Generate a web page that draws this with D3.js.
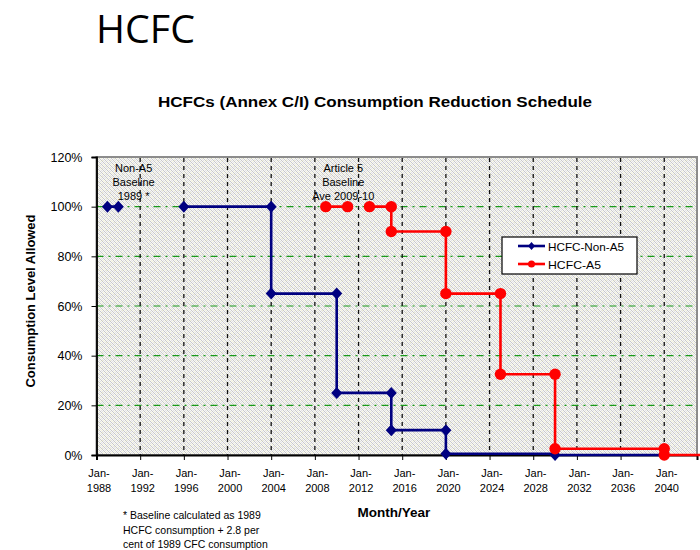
<!DOCTYPE html>
<html>
<head>
<meta charset="utf-8">
<script src="https://cdn.jsdelivr.net/npm/d3@7/dist/d3.min.js"></script>
<style>
  html, body { margin: 0; padding: 0; background: #fff; }
  svg { display: block; font-family: "Liberation Sans", Arial, sans-serif; }
</style>
</head>
<body>
<svg id="chart" width="700" height="550"></svg>
<script>
// HCFC consumption reduction schedule (per cent of baseline)
const nonA5Years  = [1989, 1990, null, 1996, 2004, 2004, 2010, 2010, 2015, 2015, 2020, 2020, 2030, 2030, 2040];
const nonA5Values = [100, 100, null, 100, 100, 65, 65, 25, 25, 10, 10, 0.5, 0.5, 0, 0];
const nonA5Marked = [1, 1, 0, 1, 1, 1, 1, 1, 1, 1, 1, 1, 0, 1, 0];

const a5Years  = [2009, 2011, null, 2013, 2015, 2015, 2020, 2020, 2025, 2025, 2030, 2030, 2040, 2040, 2044];
const a5Values = [100, 100, null, 100, 100, 90, 90, 65, 65, 32.5, 32.5, 2.5, 2.5, 0, 0];
const a5Marked = [1, 1, 0, 1, 1, 1, 1, 1, 1, 1, 1, 1, 1, 1, 0];

const xTickYears = [1988, 1992, 1996, 2000, 2004, 2008, 2012, 2016, 2020, 2024, 2028, 2032, 2036, 2040];
const yTickValues = [0, 20, 40, 60, 80, 100, 120];
const seriesNames = ["HCFC-Non-A5", "HCFC-A5"];
const footnoteLines = ["* Baseline calculated as 1989", "HCFC consumption + 2.8 per", "cent of 1989 CFC consumption"];
const nonA5Note = ["Non-A5", "Baseline", "1989 *"];
const a5Note = ["Article 5", "Baseline", "Ave 2009-10"];

const svg = d3.select("#chart");
const plot = { left: 96.5, right: 697, top: 157, bottom: 455 };

const x = d3.scaleLinear().domain([1988, 2043]).range([plot.left, plot.right]);
const y = d3.scaleLinear().domain([0, 120]).range([plot.bottom, plot.top]);

// speckled plot-area fill: an 8x8 tile described row by row
// (w = white, y = pale yellow, l = light grey, d = mid grey)
const weaveRows = [
  "wdwlwdyl",
  "lwdwywdw",
  "wlwdwlwd",
  "dwywdwlw",
  "wdwlwdwy",
  "ywdwlwdw",
  "wlydwywd",
  "dwlwdwlw"
];
const weaveColors = { w: "#f7f7f7", y: "#f3f3d6", l: "#e2e2e2", d: "#c9c9c9" };
const defs = svg.append("defs");
const pat = defs.append("pattern").attr("id", "weave")
  .attr("width", 8).attr("height", 8).attr("patternUnits", "userSpaceOnUse");
weaveRows.forEach((row, j) => {
  row.split("").forEach((c, i) => {
    pat.append("rect").attr("x", i).attr("y", j).attr("width", 1).attr("height", 1)
      .attr("fill", weaveColors[c]);
  });
});

// headings
svg.append("text").attr("x", 96).attr("y", 43)
  .attr("font-family", "'Open Sans', 'Noto Sans', sans-serif")
  .attr("font-size", 38).attr("fill", "#000")
  .attr("textLength", 99).attr("lengthAdjust", "spacingAndGlyphs")
  .text("HCFC");

svg.append("text").attr("x", 158).attr("y", 107)
  .attr("font-size", 15).attr("font-weight", "bold").attr("fill", "#000")
  .attr("textLength", 434).attr("lengthAdjust", "spacingAndGlyphs")
  .text("HCFCs (Annex C/I) Consumption Reduction Schedule");

// plot area
svg.append("rect")
  .attr("x", plot.left).attr("y", plot.top)
  .attr("width", plot.right - plot.left).attr("height", plot.bottom - plot.top)
  .attr("fill", "url(#weave)")
  .attr("stroke", "#8c8c8c").attr("stroke-width", 2);

// horizontal gridlines (dash-dot green)
svg.append("g").selectAll("line")
  .data(yTickValues.filter(v => v > 0 && v < 120))
  .join("line")
  .attr("x1", plot.left).attr("x2", plot.right)
  .attr("y1", d => y(d)).attr("y2", d => y(d))
  .attr("stroke", "#1a9a1a").attr("stroke-width", 1.2)
  .attr("stroke-dasharray", "7,5,2,5");

// vertical gridlines (dashed black)
svg.append("g").selectAll("line")
  .data(xTickYears.filter(v => v > 1988))
  .join("line")
  .attr("x1", d => x(d)).attr("x2", d => x(d))
  .attr("y1", plot.top + 1).attr("y2", plot.bottom)
  .attr("stroke", "#111").attr("stroke-width", 1.3)
  .attr("stroke-dasharray", "4,4");

// axes
const yAxis = svg.append("g").attr("transform", `translate(${plot.left},0)`)
  .call(d3.axisLeft(y).tickValues(yTickValues).tickSize(5).tickFormat(d => d + "%"));
yAxis.select(".domain").attr("stroke", "#000").attr("stroke-width", 1.8);
yAxis.selectAll(".tick line").attr("stroke", "#000");
yAxis.selectAll(".tick text")
  .attr("x", -14).attr("font-size", 12.5).attr("fill", "#000")
  .attr("font-family", "'Liberation Sans', Arial, sans-serif");

const xAxis = svg.append("g").attr("transform", `translate(0,${plot.bottom})`)
  .call(d3.axisBottom(x).tickValues(xTickYears).tickSize(5).tickFormat(""));
xAxis.select(".domain").attr("stroke", "#000").attr("stroke-width", 2);
xAxis.selectAll(".tick line").attr("stroke", "#000");
xAxis.selectAll(".tick").each(function(d) {
  const t = d3.select(this).append("text")
    .attr("text-anchor", "middle").attr("fill", "#000")
    .attr("font-size", 11).attr("font-family", "'Liberation Sans', Arial, sans-serif");
  t.append("tspan").attr("x", 2).attr("y", 22).text("Jan-");
  t.append("tspan").attr("x", 2).attr("y", 37).text(d);
});

// axis titles
svg.append("text")
  .attr("transform", `translate(35,301) rotate(-90)`)
  .attr("text-anchor", "middle").attr("font-size", 12.5).attr("font-weight", "bold")
  .attr("textLength", 173).attr("lengthAdjust", "spacingAndGlyphs")
  .text("Consumption Level Allowed");

svg.append("text").attr("x", 394).attr("y", 517)
  .attr("text-anchor", "middle").attr("font-size", 13.5).attr("font-weight", "bold")
  .text("Month/Year");

// footnote
svg.append("g").selectAll("text")
  .data(footnoteLines).join("text")
  .attr("x", 123).attr("y", (d, i) => 519 + i * 14.5)
  .attr("font-size", 10.5).attr("fill", "#000")
  .text(d => d);

// annotations above the baseline points
function note(lines, cx) {
  svg.append("g").selectAll("text")
    .data(lines).join("text")
    .attr("x", cx).attr("y", (d, i) => 172 + i * 14)
    .attr("text-anchor", "middle").attr("font-size", 11).attr("fill", "#000")
    .text(d => d);
}
note(nonA5Note, x(1991.4));
note(a5Note, x(2010.6));

// series
function toPoints(years, values, marked) {
  return years.map((yr, i) => ({ year: yr, value: values[i], marked: marked[i] }));
}
const line = d3.line()
  .defined(d => d.year !== null)
  .x(d => x(d.year)).y(d => y(d.value));

const diamond = "M0,-6L5.5,0L0,6L-5.5,0Z";

const series = [
  { name: seriesNames[0], color: "#000080", pts: toPoints(nonA5Years, nonA5Values, nonA5Marked), shape: "diamond" },
  { name: seriesNames[1], color: "#ff0000", pts: toPoints(a5Years, a5Values, a5Marked), shape: "circle" }
];

series.forEach(s => {
  const g = svg.append("g");
  g.append("path").datum(s.pts)
    .attr("d", line).attr("fill", "none")
    .attr("stroke", s.color).attr("stroke-width", 2.6);
  const m = s.pts.filter(p => p.year !== null && p.marked);
  if (s.shape === "diamond") {
    g.selectAll("path.mk").data(m).join("path").attr("class", "mk")
      .attr("d", diamond)
      .attr("transform", d => `translate(${x(d.year)},${y(d.value)})`)
      .attr("fill", s.color);
  } else {
    g.selectAll("circle").data(m).join("circle")
      .attr("cx", d => x(d.year)).attr("cy", d => y(d.value))
      .attr("r", 5.7).attr("fill", s.color);
  }
});

// legend
const lg = svg.append("g").attr("transform", "translate(502,237)");
lg.append("rect").attr("width", 135).attr("height", 37)
  .attr("fill", "#fff").attr("stroke", "#000").attr("stroke-width", 1.2);
series.forEach((s, i) => {
  const row = lg.append("g").attr("transform", `translate(0,${9 + i * 18})`);
  row.append("line").attr("x1", 16).attr("x2", 43)
    .attr("stroke", s.color).attr("stroke-width", 2.6);
  if (s.shape === "diamond") {
    row.append("path").attr("d", "M0,-4L3.5,0L0,4L-3.5,0Z").attr("transform", "translate(29.5,0)").attr("fill", s.color);
  } else {
    row.append("circle").attr("cx", 29.5).attr("r", 3.5).attr("fill", s.color);
  }
  row.append("text").attr("x", 46).attr("y", 4.5)
    .attr("font-size", 11.5).attr("fill", "#000")
    .attr("textLength", i === 0 ? 76 : 53).attr("lengthAdjust", "spacingAndGlyphs")
    .text(s.name);
});
</script>
</body>
</html>
